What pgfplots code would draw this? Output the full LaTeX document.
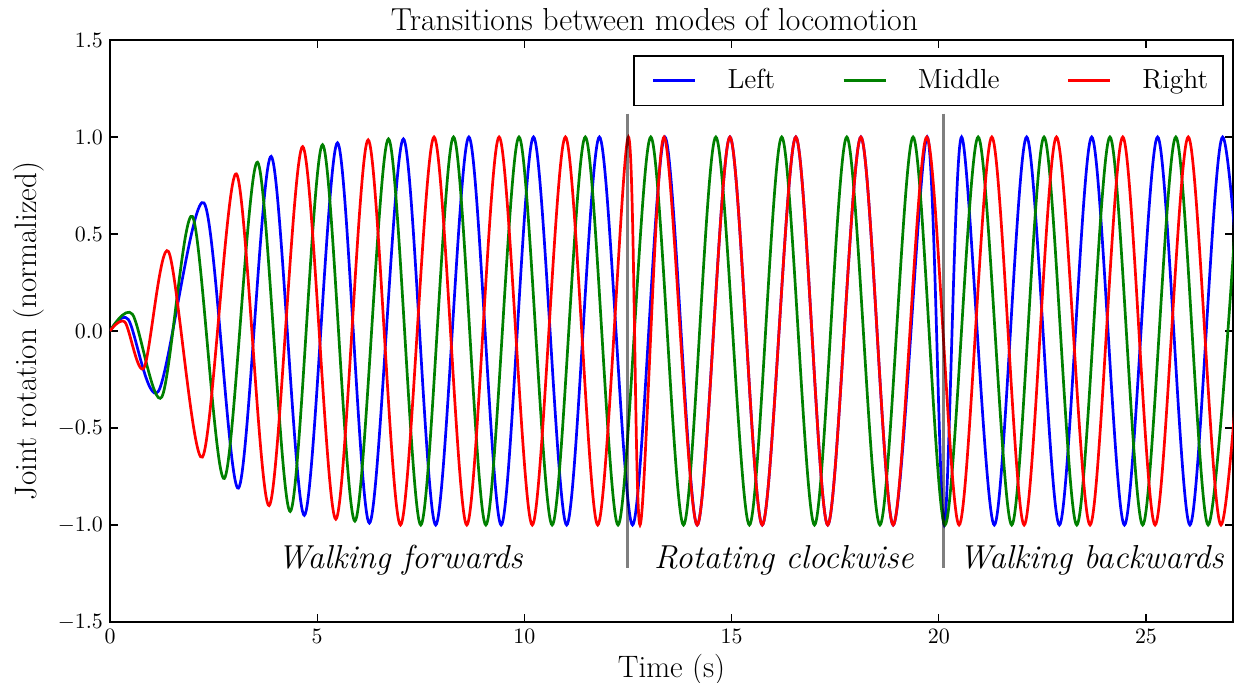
\documentclass[border=0pt]{standalone}
\usepackage{pgfplots}
\pgfplotsset{compat=1.18}
\definecolor{mplblue}{rgb}{0,0,1}
\definecolor{mplgreen}{rgb}{0,0.5,0}
\definecolor{mplred}{rgb}{1,0,0}
\begin{document}
\begin{tikzpicture}
\begin{axis}[
  scale only axis,
  width=561.5pt, height=291pt,
  xmin=0, xmax=27.1, ymin=-1.5, ymax=1.5,
  xtick={0,5,10,15,20,25},
  ytick={-1.5,-1,-0.5,0,0.5,1,1.5},
  yticklabel style={/pgf/number format/.cd, fixed, fixed zerofill, precision=1},
  tick align=inside,
  tick style={black, line width=0.6pt},
  major tick length=4pt,
  axis line style={line width=0.9pt},
  ticklabel style={font=\fontsize{10.6}{12}\selectfont},
  title={Transitions between modes of locomotion},
  title style={font=\fontsize{15.9}{18}\selectfont, at={(0.5,1)}, anchor=south, yshift=-5pt, xshift=-8.5pt},
  xlabel={Time (s)},
  ylabel={Joint rotation (normalized)},
  label style={font=\fontsize{15.5}{18}\selectfont},
  xlabel style={yshift=1.5pt},
  legend columns=3,
  legend style={at={(0.992,0.974)}, anchor=north east, draw=black, line width=0.9pt,
    font=\fontsize{13.8}{16}\selectfont, inner xsep=7.5pt, inner ysep=4.75pt},
  legend cell align=left,
  legend image code/.code={\path (-1.5pt,0pt); \draw[#1] (0pt,0pt) -- (21pt,0pt);},
  every axis plot/.append style={line width=1.35pt},
]
\addplot[mplblue, smooth] coordinates {
(0,0) (0.44,0.06) (1.17,-0.31) (2.27,0.66) (3.10,-0.81) (3.89,0.90) (4.69,-0.95)
(5.49,0.97) (6.26,-0.99) (7.08,0.99) (7.86,-1) (8.66,1) (9.44,-1) (10.22,1)
(11.02,-1) (11.81,1) (12.61,-1) (13.39,1) (14.17,-1) (14.96,1) (15.74,-1)
(16.55,1) (17.32,-1) (18.12,1) (18.90,-1) (19.72,1) (20.13,-1) (20.55,1)
(21.34,-1) (22.12,1) (22.91,-1) (23.69,1) (24.48,-1) (25.28,1) (26.06,-1)
(26.85,1) (27.64,-1)
};
\addlegendentry{\hspace*{13.5pt}Left\hspace*{30pt}}
\addplot[mplgreen, smooth] coordinates {
(0,0) (0.54,0.087) (1.25,-0.34) (1.99,0.59) (2.76,-0.76) (3.56,0.87) (4.35,-0.93)
(5.13,0.96) (5.91,-0.98) (6.72,0.99) (7.50,-1) (8.29,1) (9.07,-1) (9.87,1)
(10.67,-1) (11.47,1) (12.26,-1) (13.05,1) (13.84,-1) (14.62,1) (15.43,-1)
(16.21,1) (17.0,-1) (17.78,1) (18.58,-1) (19.38,1) (20.15,-1) (20.95,1)
(21.76,-1) (22.54,1) (23.33,-1) (24.13,1) (24.92,-1) (25.72,1) (26.50,-1)
(27.29,1)
};
\addlegendentry{\hspace*{13.5pt}Middle\hspace*{30pt}}
\addplot[mplred, smooth] coordinates {
(0,0) (0.36,0.046) (0.82,-0.19) (1.41,0.41) (2.23,-0.65) (3.05,0.81) (3.84,-0.90)
(4.65,0.95) (5.45,-0.97) (6.23,0.985) (7.01,-1) (7.82,1) (8.61,-1) (9.39,1)
(10.19,-1) (10.99,1) (11.77,-1) (12.51,1) (12.79,-1) (13.37,1) (14.17,-1)
(14.96,1) (15.74,-1) (16.55,1) (17.32,-1) (18.12,1) (18.90,-1) (19.71,1)
(20.49,-1) (21.28,1) (22.06,-1) (22.84,1) (23.65,-1) (24.44,1) (25.22,-1)
(26.02,1) (26.81,-1) (27.60,1)
};
\addlegendentry{\hspace*{13.5pt}Right\hspace*{-2pt}}
\addplot[black, opacity=0.5, line width=1.5pt, forget plot] coordinates {(12.5,1.12) (12.5,-1.22)};
\addplot[black, opacity=0.5, line width=1.5pt, forget plot] coordinates {(20.12,1.12) (20.12,-1.22)};
\node[font=\fontsize{16.6}{19}\selectfont\itshape] at (axis cs:7.0,-1.18) {Walking forwards};
\node[font=\fontsize{16.6}{19}\selectfont\itshape] at (axis cs:16.26,-1.18) {Rotating clockwise};
\node[font=\fontsize{16.6}{19}\selectfont\itshape] at (axis cs:23.68,-1.18) {Walking backwards};
\end{axis}
\pgfresetboundingbox
\path[use as bounding box] ([xshift=-55pt,yshift=-30.5pt]current axis.south west) rectangle ([xshift=1pt,yshift=20pt]current axis.north east);
\end{tikzpicture}
\end{document}
